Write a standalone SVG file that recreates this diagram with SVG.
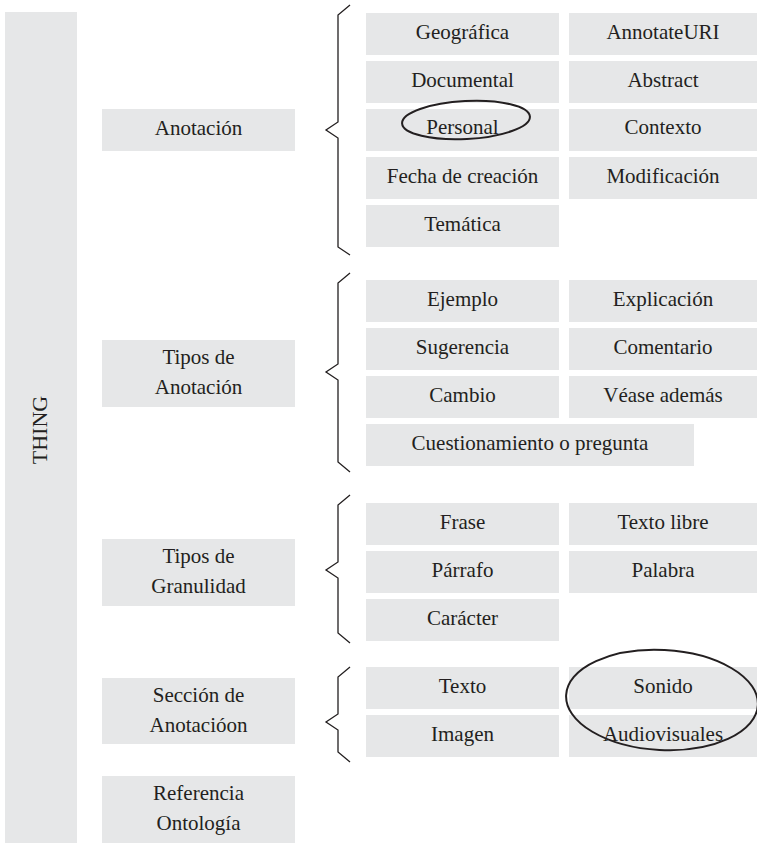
<svg xmlns="http://www.w3.org/2000/svg" width="757" height="843" viewBox="0 0 757 843">
<style>
.b{fill:#e6e7e8}
.t{font-family:"Liberation Serif","Times New Roman",serif;font-size:21px;fill:#231f20;text-anchor:middle}
.br{fill:none;stroke:#231f20;stroke-width:1.3;stroke-linejoin:miter}
.el{fill:none;stroke:#231f20;stroke-width:2}
</style>
<rect width="757" height="843" fill="#ffffff"/>
<g id="thing"><rect class="b" x="5" y="12" width="72" height="831"/><text class="t" transform="translate(47,430) rotate(-90)" style="font-size:22px">THING</text></g>
<g id="anotacion"><rect class="b" x="102" y="109" width="193" height="42"/><text class="t" x="198.5" y="135">Anotación</text></g>
<g id="tipos-anotacion"><rect class="b" x="102" y="340" width="193" height="67"/><text class="t" x="198.5" y="363.5">Tipos de</text><text class="t" x="198.5" y="393.5">Anotación</text></g>
<g id="tipos-granulidad"><rect class="b" x="102" y="539" width="193" height="67"/><text class="t" x="198.5" y="562.5">Tipos de</text><text class="t" x="198.5" y="592.5">Granulidad</text></g>
<g id="seccion"><rect class="b" x="102" y="678" width="193" height="66"/><text class="t" x="198.5" y="701.5">Sección de</text><text class="t" x="198.5" y="731.5">Anotacióon</text></g>
<g id="referencia"><rect class="b" x="102" y="776" width="193" height="67"/><text class="t" x="198.5" y="799.5">Referencia</text><text class="t" x="198.5" y="829.5">Ontología</text></g>

<g id="geografica"><rect class="b" x="366" y="13" width="193" height="42"/><text class="t" x="462.5" y="39">Geográfica</text></g>
<g id="annotateuri"><rect class="b" x="569" y="13" width="188" height="42"/><text class="t" x="663" y="39">AnnotateURI</text></g>
<g id="documental"><rect class="b" x="366" y="61" width="193" height="42"/><text class="t" x="462.5" y="87">Documental</text></g>
<g id="abstract"><rect class="b" x="569" y="61" width="188" height="42"/><text class="t" x="663" y="87">Abstract</text></g>
<g id="personal"><rect class="b" x="366" y="109" width="193" height="42"/><text class="t" x="462.5" y="134">Personal</text></g>
<g id="contexto"><rect class="b" x="569" y="109" width="188" height="42"/><text class="t" x="663" y="134">Contexto</text></g>
<g id="fecha"><rect class="b" x="366" y="157" width="193" height="42"/><text class="t" x="462.5" y="183">Fecha de creación</text></g>
<g id="modificacion"><rect class="b" x="569" y="157" width="188" height="42"/><text class="t" x="663" y="183">Modificación</text></g>
<g id="tematica"><rect class="b" x="366" y="205" width="193" height="42"/><text class="t" x="462.5" y="231">Temática</text></g>

<g id="ejemplo"><rect class="b" x="366" y="280" width="193" height="42"/><text class="t" x="462.5" y="306">Ejemplo</text></g>
<g id="explicacion"><rect class="b" x="569" y="280" width="188" height="42"/><text class="t" x="663" y="306">Explicación</text></g>
<g id="sugerencia"><rect class="b" x="366" y="328" width="193" height="42"/><text class="t" x="462.5" y="354">Sugerencia</text></g>
<g id="comentario"><rect class="b" x="569" y="328" width="188" height="42"/><text class="t" x="663" y="354">Comentario</text></g>
<g id="cambio"><rect class="b" x="366" y="376" width="193" height="42"/><text class="t" x="462.5" y="402">Cambio</text></g>
<g id="vease"><rect class="b" x="569" y="376" width="188" height="42"/><text class="t" x="663" y="402">Véase además</text></g>
<g id="cuestionamiento"><rect class="b" x="366" y="424" width="328" height="42"/><text class="t" x="530" y="450">Cuestionamiento o pregunta</text></g>

<g id="frase"><rect class="b" x="366" y="503" width="193" height="42"/><text class="t" x="462.5" y="529">Frase</text></g>
<g id="texto-libre"><rect class="b" x="569" y="503" width="188" height="42"/><text class="t" x="663" y="529">Texto libre</text></g>
<g id="parrafo"><rect class="b" x="366" y="551" width="193" height="42"/><text class="t" x="462.5" y="577">Párrafo</text></g>
<g id="palabra"><rect class="b" x="569" y="551" width="188" height="42"/><text class="t" x="663" y="577">Palabra</text></g>
<g id="caracter"><rect class="b" x="366" y="599" width="193" height="42"/><text class="t" x="462.5" y="625">Carácter</text></g>

<g id="texto"><rect class="b" x="366" y="667" width="193" height="42"/><text class="t" x="462.5" y="693">Texto</text></g>
<g id="sonido"><rect class="b" x="569" y="667" width="188" height="42"/><text class="t" x="663" y="693">Sonido</text></g>
<g id="imagen"><rect class="b" x="366" y="715" width="193" height="42"/><text class="t" x="462.5" y="741">Imagen</text></g>
<g id="audiovisuales"><rect class="b" x="569" y="715" width="188" height="42"/><text class="t" x="663" y="741">Audiovisuales</text></g>

<g id="connectors">
<path class="br" d="M350,5 L338,15 L338,122 L326,130 L338,138 L338,247 L350,255"/>
<path class="br" d="M350,273 L338,283 L338,364 L326,372 L338,380 L338,462 L350,472"/>
<path class="br" d="M350,495 L338,505 L338,562 L326,570 L338,578 L338,633 L350,643"/>
<path class="br" d="M350,667 L338,677 L338,714 L326,722 L338,730 L338,752 L350,762"/>
</g>
<g id="highlights">
<ellipse class="el" cx="466" cy="120" rx="64" ry="19" transform="rotate(-3 466 120)"/>
<ellipse class="el" cx="662" cy="700" rx="96" ry="50" transform="rotate(3 662 700)"/>
</g>
</svg>
